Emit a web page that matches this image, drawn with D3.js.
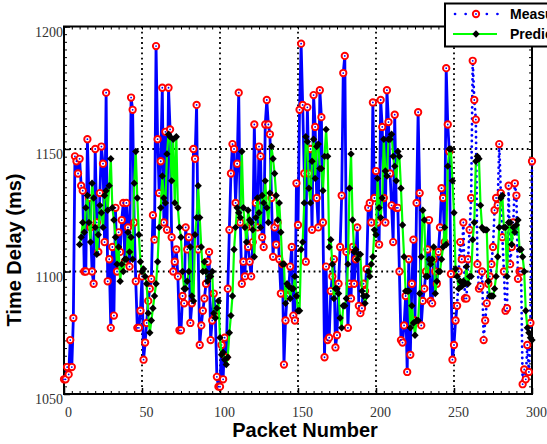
<!DOCTYPE html>
<html><head><meta charset="utf-8">
<script src="https://cdn.jsdelivr.net/npm/d3@7"></script>
<style>body{margin:0;background:#fff}svg{display:block}</style>
</head><body>
<svg id="c" width="547" height="444"></svg>
<script>
// ---------- data ----------
const measured = [
1056,1056,1061,1058,1072,1061,1081,1147,1145,1140,
1146,1135,1133,1100,1100,1154,1130,1118,1100,1095,
1150,1120,1108,1132,1151,1144,1112,1173,1096,1105,
1077,1110,1082,1126,1100,1116,1108,1121,1128,1104,
1128,1118,1102,1171,1166,1120,1096,1077,1077,1084,
1098,1064,1071,1079,1088,1093,1097,1123,1113,1192,
1154,1132,1145,1175,1120,1157,1117,1175,1158,1114,
1100,1104,1109,1098,1076,1076,1090,1087,1118,1109,
1114,1079,1087,1150,1146,1168,1109,1070,1078,1084,
1089,1095,1104,1108,1072,1080,1091,1082,1057,1053,
1053,1070,1056,1073,1065,1093,1117,1140,1152,1150,
1128,1144,1173,1120,1095,1104,1098,1118,1110,1104,
1098,1112,1160,1128,1118,1151,1147,1114,1110,1160,
1170,1160,1156,1130,1106,1118,1111,1120,1105,1091,
1103,1062,1080,1090,1093,1102,1110,1082,1080,1136,
1119,1166,1193,1168,1140,1104,1167,1140,1150,1117,
1172,1159,1130,1118,1174,1163,1120,1065,1102,1072,
1073,1092,1098,1105,1069,1074,1095,1110,1131,1181,
1188,1108,1077,1095,1089,1110,1095,1105,1118,1086,
1083,1085,1095,1092,1101,1126,1128,1120,1169,1130,
1141,1120,1111,1170,1159,1130,1120,1174,1161,1140,
1127,1112,1164,1126,1126,1100,1072,1071,1078,1090,
1059,1105,1066,1095,1113,1080,1128,1165,1132,1078,
1088,1093,1100,1109,1121,1088,1087,1105,1100,1095,
1108,1118,1134,1130,1112,1183,1160,1149,1099,1064,
1070,1080,1086,1100,1112,1105,1120,1089,1089,1105,
1117,1130,1186,1170,1162,1103,1093,1094,1100,1072,
1080,1087,1095,1098,1103,1110,1125,1130,1127,1152,
1132,1114,1100,1084,1085,1135,1103,1110,1120,1136,
1131,1097,1100,1100,1054,1060,1056,1070,1059,1079,
1145];
const predictedStart = 10;
const predicted = [
1111,1114,1120,1116,1126,1131,1120,1112,1136,1130,
1118,1107,1115,1127,1124,1118,1131,1133,1125,1135,
1146,1126,1121,1114,1103,1110,1096,1103,1100,1105,
1105,1116,1108,1114,1105,1136,1149,1130,1115,1104,
1100,1101,1098,1095,1083,1075,1080,1085,1090,1095,
1104,1118,1126,1139,1130,1128,1148,1156,1155,1137,
1154,1128,1155,1126,1118,1114,1100,1093,1093,1096,
1100,1110,1090,1088,1115,1122,1135,1122,1110,1100,
1104,1100,1096,1098,1098,1100,1083,1081,1085,1088,
1073,1066,1067,1064,1062,1065,1075,1082,1090,1109,
1118,1126,1124,1122,1149,1126,1118,1112,1125,1121,
1120,1117,1106,1122,1130,1124,1118,1131,1128,1137,
1126,1120,1132,1151,1146,1140,1131,1121,1128,1116,
1103,1103,1087,1095,1094,1089,1093,1093,1098,1090,
1084,1084,1109,1112,1128,1155,1153,1134,1128,1145,
1154,1138,1151,1152,1142,1142,1133,1147,1158,1147,
1110,1113,1103,1089,1093,1093,1091,1081,1077,1086,
1086,1089,1103,1134,1148,1121,1108,1109,1105,1107,
1107,1092,1090,1087,1090,1100,1098,1103,1106,1117,
1115,1138,1126,1122,1130,1154,1141,1139,1154,1154,
1156,1147,1143,1137,1149,1147,1134,1119,1106,1092,
1092,1092,1077,1086,1079,1074,1080,1080,1091,1106,
1125,1121,1098,1098,1105,1103,1105,1110,1091,1096,
1100,1100,1105,1110,1118,1111,1143,1150,1150,1137,
1124,1101,1098,1093,1096,1094,1096,1095,1102,1095,
1098,1098,1113,1120,1145,1147,1146,1127,1118,1117,
1117,1117,1096,1090,1090,1090,1093,1098,1106,1118,
1130,1131,1118,1118,1098,1120,1120,1111,1118,1116,
1119,1121,1109,1109,1106,1100,1084,1077,1075,1073,
1072];
const dottedFrom = 252;          // measured line turns dotted after this packet
const xTicks = [0,50,100,150,200,250,300];
const yTicks = [1050,1100,1150,1200];
const xGrid = [50,100,150,200,250];
const yGrid = [1100,1150];
const legendLabels = ["Measured","Predicted"];
const xTitle = "Packet Number";
const yTitle = "Time Delay (ms)";

// ---------- drawing ----------
const svg = d3.select("#c");
const L=64, R=532, T=26.5, B=394;
const x = d3.scaleLinear().domain([0,300]).range([L,R]);
const y = d3.scaleLinear().domain([1050,1200]).range([B,T]);

const serif = "'Liberation Serif','Times New Roman',serif";
const sans = "'Liberation Sans',Arial,Helvetica,sans-serif";

// grid
const grid = svg.append("g").attr("stroke","#000").attr("stroke-width",1.8)
  .attr("stroke-dasharray","1.8,3.4");
grid.selectAll("line.gx").data(xGrid).enter().append("line")
  .attr("x1",d=>x(d)).attr("x2",d=>x(d)).attr("y1",T).attr("y2",B);
grid.selectAll("line.gy").data(yGrid).enter().append("line")
  .attr("y1",d=>y(d)).attr("y2",d=>y(d)).attr("x1",L).attr("x2",R);

// minor ticks on all sides
const xMinor = d3.range(0,301,5);
const yMinor = d3.range(0,49).map(i=>1050+i*50/16);
function minor(sel){ sel.selectAll("text").remove(); sel.select(".domain").remove();
  sel.selectAll("line").attr("stroke","#000").attr("stroke-width",1); }
svg.append("g").attr("transform",`translate(0,${B})`)
  .call(d3.axisBottom(x).tickValues(xMinor).tickSize(-3).tickFormat("")).call(minor);
svg.append("g").attr("transform",`translate(0,${T})`)
  .call(d3.axisTop(x).tickValues(xMinor).tickSize(-3).tickFormat("")).call(minor);
svg.append("g").attr("transform",`translate(${L},0)`)
  .call(d3.axisLeft(y).tickValues(yMinor).tickSize(-3).tickFormat("")).call(minor);
svg.append("g").attr("transform",`translate(${R},0)`)
  .call(d3.axisRight(y).tickValues(yMinor).tickSize(-3).tickFormat("")).call(minor);

// major axes
const gx = svg.append("g").attr("transform",`translate(0,${B})`)
  .call(d3.axisBottom(x).tickValues(xTicks).tickSizeInner(-6).tickSizeOuter(0).tickFormat(d3.format("d")));
gx.select(".domain").remove();
gx.selectAll("line").attr("stroke","#000").attr("stroke-width",1.5);
gx.selectAll("text").attr("font-family",serif).attr("font-size",14).attr("fill","#333")
  .attr("dy",0).attr("y",23).attr("x",4);
const gy = svg.append("g").attr("transform",`translate(${L},0)`)
  .call(d3.axisLeft(y).tickValues(yTicks).tickSizeInner(-6).tickSizeOuter(0).tickFormat(d3.format("d")));
gy.select(".domain").remove();
gy.selectAll("line").attr("stroke","#000").attr("stroke-width",1.5);
gy.selectAll("text").attr("font-family",serif).attr("font-size",14).attr("fill","#333")
  .attr("dy",0).attr("x",-1).attr("y",9.5);

// frame
svg.append("rect").attr("x",L).attr("y",T).attr("width",R-L).attr("height",B-T)
  .attr("fill","none").attr("stroke","#000").attr("stroke-width",2);

// measured series
const mPts = measured.map((v,i)=>({i,v}));
const line = d3.line().x(d=>x(d.i)).y(d=>y(d.v));
svg.append("path").datum(mPts.filter(d=>d.i<=dottedFrom)).attr("d",line)
  .attr("fill","none").attr("stroke","#0000ff").attr("stroke-width",2.8).attr("stroke-linejoin","round");
svg.append("path").datum(mPts.filter(d=>d.i>=dottedFrom)).attr("d",line)
  .attr("fill","none").attr("stroke","#0000ff").attr("stroke-width",2.8)
  .attr("stroke-linecap","round").attr("stroke-dasharray","0.1,5.5");
svg.append("g").selectAll("circle").data(mPts).enter().append("circle")
  .attr("cx",d=>x(d.i)).attr("cy",d=>y(d.v)).attr("r",3.2)
  .attr("fill","#fff").attr("stroke","#ff0000").attr("stroke-width",1.9);
svg.append("g").selectAll("circle").data(mPts).enter().append("circle")
  .attr("cx",d=>x(d.i)).attr("cy",d=>y(d.v)).attr("r",0.9).attr("fill","#0000ff");

// predicted series
const pPts = predicted.map((v,k)=>({i:k+predictedStart,v}));
svg.append("path").datum(pPts).attr("d",line)
  .attr("fill","none").attr("stroke","#00ff00").attr("stroke-width",2.2).attr("stroke-linejoin","round");
const diamond = "M0,-3.7L3.7,0L0,3.7L-3.7,0Z";
svg.append("g").selectAll("path").data(pPts).enter().append("path")
  .attr("d",diamond).attr("transform",d=>`translate(${x(d.i)},${y(d.v)})`).attr("fill","#000");

// legend (cut off by the right edge, as in the original figure)
const lg = svg.append("g");
lg.append("rect").attr("x",445).attr("y",3.5).attr("width",120).attr("height",43)
  .attr("fill","#fff").attr("stroke","#000").attr("stroke-width",2);
lg.append("line").attr("x1",455).attr("x2",498).attr("y1",14).attr("y2",14)
  .attr("stroke","#0000ff").attr("stroke-width",2.6).attr("stroke-linecap","round").attr("stroke-dasharray","0.1,10.5");
lg.append("circle").attr("cx",476).attr("cy",14).attr("r",3.2).attr("fill","#fff")
  .attr("stroke","#ff0000").attr("stroke-width",1.9);
lg.append("circle").attr("cx",476).attr("cy",14).attr("r",0.9).attr("fill","#0000ff");
lg.append("line").attr("x1",453).attr("x2",497).attr("y1",34).attr("y2",34)
  .attr("stroke","#00ff00").attr("stroke-width",2.2);
lg.append("path").attr("d",diamond).attr("transform","translate(476,34)").attr("fill","#000");
lg.selectAll("text").data(legendLabels).enter().append("text")
  .attr("x",510).attr("y",(d,i)=>19.3+i*19.5).text(d=>d)
  .attr("font-family",sans).attr("font-weight","bold").attr("font-size",14).attr("fill","#000");

// titles
svg.append("text").attr("x",305).attr("y",437).attr("text-anchor","middle")
  .attr("font-family",sans).attr("font-weight","bold").attr("font-size",20).text(xTitle);
svg.append("text").attr("transform","translate(21,250) rotate(-90)").attr("text-anchor","middle")
  .attr("font-family",sans).attr("font-weight","bold").attr("font-size",20).text(yTitle);
</script>
</body></html>
